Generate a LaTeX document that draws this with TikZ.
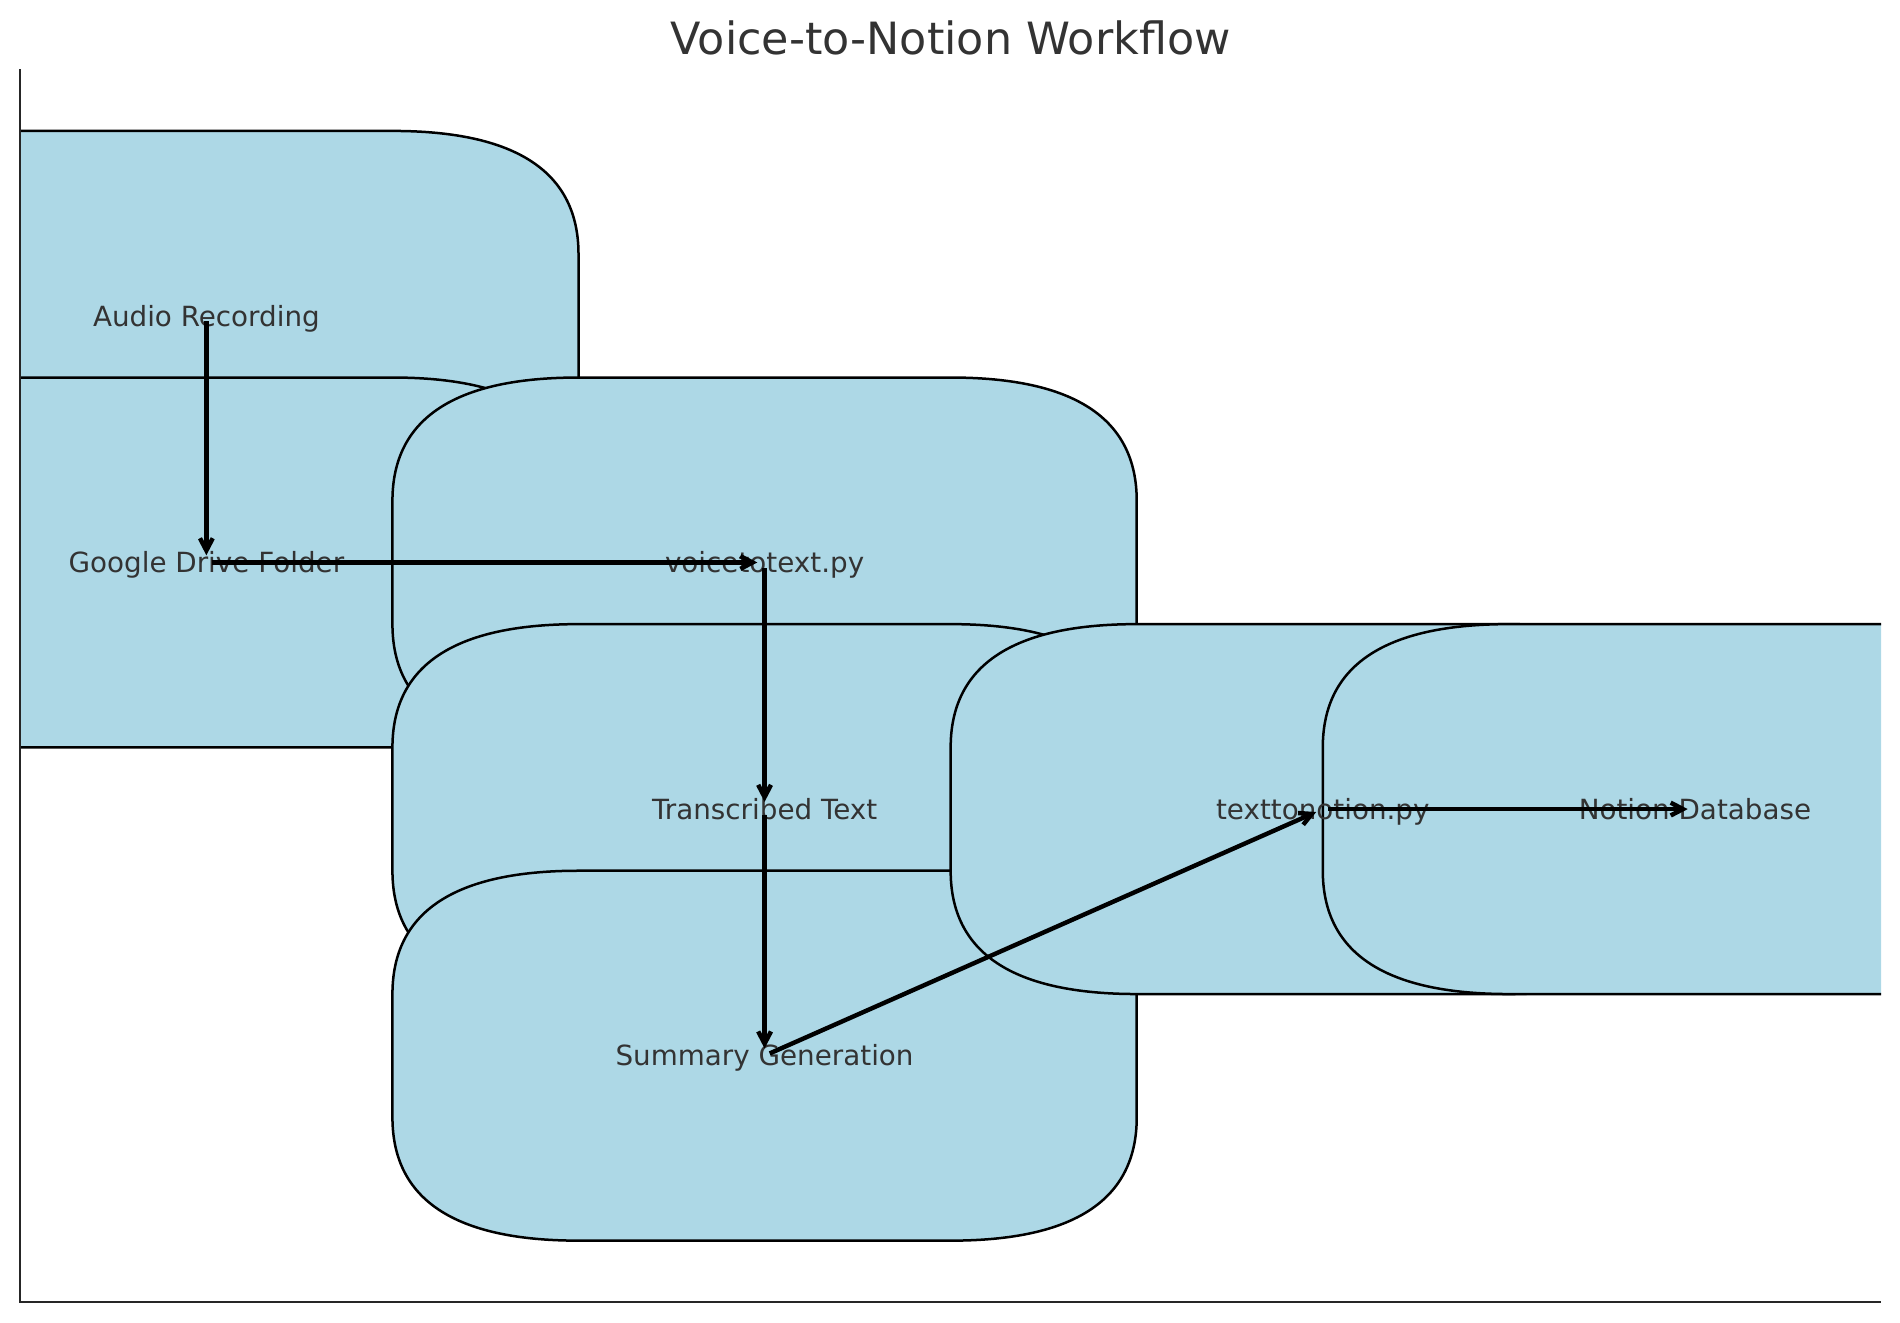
\documentclass[tikz,border=0pt]{standalone}
\usepackage{fontspec}
\setmainfont{DejaVu Sans}
\usetikzlibrary{arrows.meta}
\definecolor{boxblue}{HTML}{ADD8E6}
\definecolor{labelgray}{HTML}{333333}
\definecolor{spinegray}{HTML}{262626}

\begin{document}
\begin{tikzpicture}
[x=66.985pt,y=44.388pt,
  stepbox/.style={draw=black,fill=boxblue,line width=0.9pt},%
  steplabel/.style={text=labelgray,font=\fontsize{10}{12}\selectfont,inner sep=0pt,text height=0.76em,text depth=0.03em},
  flowarrow/.style={-{Straight Barb[length=4.4pt,width=4.6pt]},line width=1.6pt,shorten <=2pt,shorten >=2.6pt},
  spine/.style={draw=spinegray,line width=0.8pt}]
\useasboundingbox (-0.1091,-0.1598) rectangle (10.1021,10.5620);
% rounded boxes, clipped to the axes
\begin{scope}
\clip (0,0) rectangle (10,10);
\foreach \cx/\cy in {1/8,1/6,4/6,4/4,4/2,7/4,9/4}
  \draw[stepbox,shift={(\cx,\cy)}] (-1,1.5) -- (1,1.5)
    .. controls +(2/3,0) and +(0,2/3) .. (2,0.5) -- (2,-0.5)
    .. controls +(0,-2/3) and +(2/3,0) .. (1,-1.5) -- (-1,-1.5)
    .. controls +(-2/3,0) and +(0,-2/3) .. (-2,-0.5) -- (-2,0.5)
    .. controls +(0,2/3) and +(-2/3,0) .. (-1,1.5) -- cycle;
\end{scope}
% nodes or steps
\node (audio) at (1,8) [steplabel] {Audio Recording};
\node (drive) at (1,6) [steplabel] {Google Drive Folder};
\node (voicepy) at (4,6) [steplabel] {voicetotext.py};
\node (transcript) at (4,4) [steplabel] {Transcribed Text};
\node (summary) at (4,2) [steplabel] {Summary Generation};
\node (notionpy) at (7,4) [steplabel] {texttonotion.py};
\node (database) at (9,4) [steplabel] {Notion Database};
% title
\node (title) at (5,10.121) [anchor=base,text=labelgray,font=\fontsize{16}{19}\selectfont] {Voice-to-Notion Workflow};
% axes lines
\draw[spine] (0,10) -- (0,0) -- (10,0);
% edges or arrows
\path
(audio.center) edge[flowarrow] (drive.center)
(drive.center) edge[flowarrow] (voicepy.center)
(voicepy.center) edge[flowarrow] (transcript.center)
(transcript.center) edge[flowarrow] (summary.center)
(summary.center) edge[flowarrow] (notionpy.center)
(notionpy.center) edge[flowarrow] (database.center);
\end{tikzpicture}
\end{document}
